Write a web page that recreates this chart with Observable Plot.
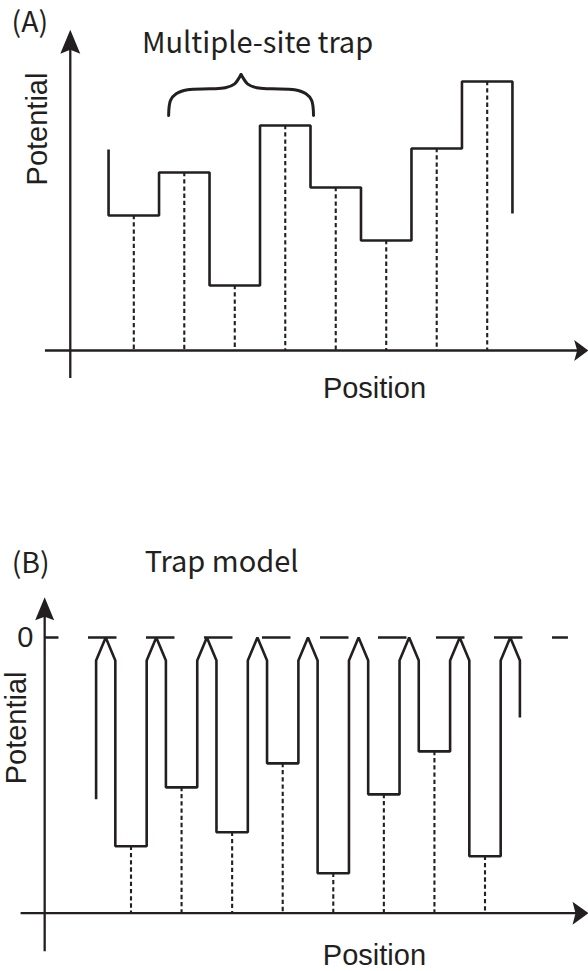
<!DOCTYPE html>
<html>
<head>
<meta charset="utf-8">
<script src="https://cdn.jsdelivr.net/npm/d3@7"></script>
<script src="https://cdn.jsdelivr.net/npm/@observablehq/plot@0.6"></script>
<style>
html, body { margin: 0; padding: 0; background: #fff; }
#chart { width: 588px; }
#chart svg { display: block; overflow: visible; }
</style>
</head>
<body>
<div id="chart"></div>
<script>
// ---------- Data ----------
// Panel (A): multiple-site trap — site index and step potential level
const sitesA = [0, 1, 2, 3, 4, 5, 6, 7];
const levelsA = [13.5, 17.8, 6.5, 22.5, 16.3, 11.0, 20.2, 26.9];
const edgeLevelsA = [20.1, 13.7];           // left wall top, right wall bottom

// Panel (B): trap model — site index and well depth (0 = barrier top)
const sitesB = [0, 1, 2, 3, 4, 5, 6, 7];
const depthsB = [-20.9, -15.0, -19.5, -12.6, -23.6, -15.7, -11.4, -21.9];
const edgeLevelsB = [-16.2, -8.0];          // left wall bottom, right wall bottom
const barrierTop = 0;
const barrierShoulder = -2.3;
const barrierHalfWidth = 0.19;

// Text
const titleA = "(A)", subtitleA = "Multiple-site trap";
const titleB = "(B)", subtitleB = "Trap model";
const yLabel = "Potential", xLabel = "Position", zeroLabel = "0";

// ---------- Styling ----------
const ink = "#231f20";
const jpFont = "'Noto Sans CJK JP', 'Noto Sans', sans-serif";
const latFont = "'Liberation Sans', Arial, sans-serif";

function arrowSymbol(len, half, notch) {
  return {
    draw(ctx) {
      ctx.moveTo(0, 0);
      ctx.lineTo(half, len);
      ctx.lineTo(0, len - notch);
      ctx.lineTo(-half, len);
      ctx.closePath();
    }
  };
}

function bracePoints(x0, x1, yb, yt) {
  const tmpl = [[0, 0], [0.013, 0.37], [0.052, 0.53], [0.131, 0.627], [0.287, 0.651],
                [0.391, 0.675], [0.456, 0.773], [0.482, 0.895], [0.5, 1.0]];
  const pts = [];
  tmpl.forEach(([t, v]) => pts.push({side: "L", x: x0 + t * (x1 - x0), y: yb + v * (yt - yb)}));
  tmpl.forEach(([t, v]) => pts.push({side: "R", x: x0 + (1 - t) * (x1 - x0), y: yb + v * (yt - yb)}));
  return pts;
}

// ---------- Panel A ----------
const pathA = [{x: sitesA[0] - 0.5, y: edgeLevelsA[0]}];
sitesA.forEach((s, i) => {
  pathA.push({x: s - 0.5, y: levelsA[i]}, {x: s + 0.5, y: levelsA[i]});
});
pathA.push({x: sitesA[sitesA.length - 1] + 0.5, y: edgeLevelsA[1]});

const axA = {x: -1.258, xMin: -1.75, xMax: 9.0, yMin: -2.8, yMax: 32.07};

const plotA = Plot.plot({
  width: 588, height: 480,
  marginTop: 0, marginRight: 0, marginBottom: 0, marginLeft: 0,
  x: {domain: [0, 7], range: [133.3, 486.7], axis: null},
  y: {domain: [0, 32], range: [350, 30], axis: null},
  style: {background: "white", color: ink, overflow: "visible"},
  marks: [
    // axes
    Plot.ruleY([0], {x1: axA.xMin, x2: axA.xMax - 0.15, stroke: ink, strokeWidth: 2.3}),
    Plot.ruleX([axA.x], {y1: axA.yMin, y2: axA.yMax - 1, stroke: ink, strokeWidth: 2.3}),
    Plot.dot([{x: axA.x, y: axA.yMax}], {x: "x", y: "y", symbol: arrowSymbol(24, 10, 4), fill: ink, stroke: null, r: 1}),
    Plot.dot([{x: axA.xMax, y: 0}], {x: "x", y: "y", symbol: arrowSymbol(14, 10.5, 3), rotate: 90, fill: ink, stroke: null, r: 1}),
    // dashed site markers
    Plot.ruleX(sitesA, {x: d => d, y1: (d, i) => levelsA[i], y2: 0, stroke: ink, strokeWidth: 2.1, strokeDasharray: "4.3,2.9"}),
    // step potential
    Plot.line(pathA, {x: "x", y: "y", stroke: ink, strokeWidth: 2.6, strokeLinejoin: "miter", strokeLinecap: "butt"}),
    // brace
    Plot.line(bracePoints(0.69, 3.56, 23.5, 27.6), {x: "x", y: "y", z: "side", curve: "catmull-rom", stroke: ink, strokeWidth: 3, strokeLinecap: "round"}),
    // labels
    Plot.text([titleA], {x: -2.42, y: 31.9, text: d => d, textAnchor: "start", lineAnchor: "bottom", fontSize: 28.5, fontFamily: jpFont, fill: ink}),
    Plot.text([subtitleA], {x: 0.16, y: 29.8, text: d => d, textAnchor: "start", lineAnchor: "bottom", fontSize: 29, fontFamily: jpFont, fill: ink}),
    Plot.text([yLabel], {x: -1.729, y: 22.15, text: d => d, rotate: -90, textAnchor: "middle", lineAnchor: "bottom", fontSize: 29, fontFamily: latFont, fill: ink}),
    Plot.text([xLabel], {x: 4.767, y: -4.73, text: d => d, textAnchor: "middle", lineAnchor: "bottom", fontSize: 29, fontFamily: latFont, fill: ink})
  ]
});

// ---------- Panel B ----------
const hw = barrierHalfWidth;
const firstB = sitesB[0], lastB = sitesB[sitesB.length - 1];
const pathB = [
  {x: firstB - 0.5 - hw, y: edgeLevelsB[0]},
  {x: firstB - 0.5 - hw, y: barrierShoulder},
  {x: firstB - 0.5, y: barrierTop},
  {x: firstB - 0.5 + hw, y: barrierShoulder}
];
sitesB.forEach((s, i) => {
  pathB.push(
    {x: s - 0.5 + hw, y: depthsB[i]},
    {x: s + 0.5 - hw, y: depthsB[i]},
    {x: s + 0.5 - hw, y: barrierShoulder},
    {x: s + 0.5, y: barrierTop},
    {x: s + 0.5 + hw, y: barrierShoulder}
  );
});
pathB.push({x: lastB + 0.5 + hw, y: edgeLevelsB[1]});

const axB = {x: -1.707, y: -27.6, xMin: -2.173, xMax: 9.047, yMin: -31.47, yMax: 4.03, zeroEnd: 8.65};

const plotB = Plot.plot({
  width: 588, height: 491,
  marginTop: 0, marginRight: 0, marginBottom: 0, marginLeft: 0,
  x: {domain: [0, 7], range: [130.5, 484.5], axis: null},
  y: {domain: [-27.6, 0], range: [432.7, 157], axis: null},
  style: {background: "white", color: ink, overflow: "visible"},
  marks: [
    // axes
    Plot.ruleY([axB.y], {x1: axB.xMin, x2: axB.xMax - 0.15, stroke: ink, strokeWidth: 2.3}),
    Plot.ruleX([axB.x], {y1: axB.yMin, y2: axB.yMax - 1, stroke: ink, strokeWidth: 2.3}),
    Plot.dot([{x: axB.x, y: axB.yMax}], {x: "x", y: "y", symbol: arrowSymbol(23, 9.5, 3.5), fill: ink, stroke: null, r: 1}),
    Plot.dot([{x: axB.xMax, y: axB.y}], {x: "x", y: "y", symbol: arrowSymbol(16, 11.5, 3), rotate: 90, fill: ink, stroke: null, r: 1}),
    // zero reference
    Plot.ruleY([barrierTop], {x1: axB.x, x2: axB.zeroEnd, stroke: ink, strokeWidth: 2.3, strokeDasharray: "28.5,29.5", strokeDashoffset: 14.2}),
    // dashed site markers
    Plot.ruleX(sitesB, {x: d => d, y1: (d, i) => depthsB[i], y2: axB.y, stroke: ink, strokeWidth: 2.1, strokeDasharray: "4.3,2.9"}),
    // trap potential
    Plot.line(pathB, {x: "x", y: "y", stroke: ink, strokeWidth: 2.6, strokeLinejoin: "miter", strokeLinecap: "butt"}),
    // labels
    Plot.text([titleB], {x: -2.36, y: 6.5, text: d => d, textAnchor: "start", lineAnchor: "bottom", fontSize: 28.5, fontFamily: jpFont, fill: ink}),
    Plot.text([subtitleB], {x: 0.27, y: 6.6, text: d => d, textAnchor: "start", lineAnchor: "bottom", fontSize: 29, fontFamily: jpFont, fill: ink}),
    Plot.text([zeroLabel], {x: -1.928, y: 0, text: d => d, textAnchor: "end", lineAnchor: "middle", fontSize: 29, fontFamily: latFont, fill: ink}),
    Plot.text([yLabel], {x: -2.086, y: -9.05, text: d => d, rotate: -90, textAnchor: "middle", lineAnchor: "bottom", fontSize: 29, fontFamily: latFont, fill: ink}),
    Plot.text([xLabel], {x: 4.814, y: -32.8, text: d => d, textAnchor: "middle", lineAnchor: "bottom", fontSize: 29, fontFamily: latFont, fill: ink})
  ]
});

const chart = document.getElementById("chart");
chart.appendChild(plotA);
chart.appendChild(plotB);
</script>
</body>
</html>
